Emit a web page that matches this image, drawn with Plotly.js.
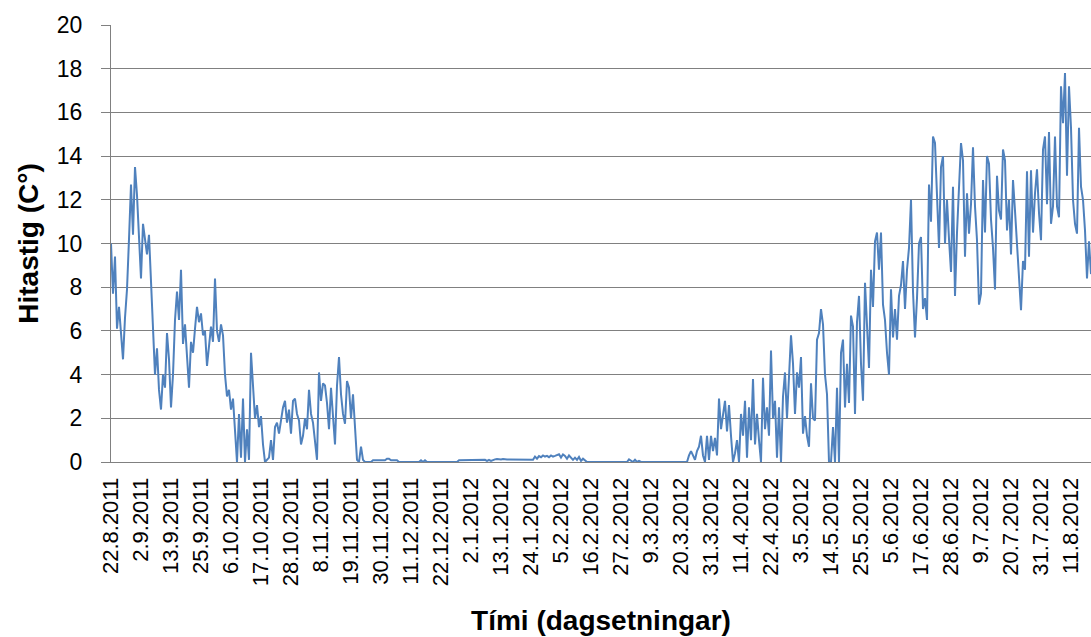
<!DOCTYPE html>
<html>
<head>
<meta charset="utf-8">
<script src="https://cdn.plot.ly/plotly-3.0.1.min.js"></script>
<style>
  html, body { margin: 0; padding: 0; background: #ffffff; }
  #chart { width: 1091px; height: 637px; }
</style>
</head>
<body>
<div id="chart"></div>
<script>
// Date labels shown on the category axis (one label every 15 samples)
const dateLabels = [
  "22.8.2011", "2.9.2011", "13.9.2011", "25.9.2011", "6.10.2011", "17.10.2011",
  "28.10.2011", "8.11.2011", "19.11.2011", "30.11.2011", "11.12.2011", "22.12.2011",
  "2.1.2012", "13.1.2012", "24.1.2012", "5.2.2012", "16.2.2012", "27.2.2012",
  "9.3.2012", "20.3.2012", "31.3.2012", "11.4.2012", "22.4.2012", "3.5.2012",
  "14.5.2012", "25.5.2012", "5.6.2012", "17.6.2012", "28.6.2012", "9.7.2012",
  "20.7.2012", "31.7.2012", "11.8.2012"
];
const samplesPerLabel = 15;

const temperature = [
  10.0, 7.7, 9.4, 6.1, 7.1, 5.9, 4.7, 6.6, 7.9, 10.2,
  12.7, 10.4, 13.5, 12.2, 10.0, 8.4, 10.9, 10.2, 9.5, 10.4,
  8.1, 6.3, 4.0, 5.2, 3.3, 2.4, 4.0, 3.4, 5.9, 4.7,
  2.5, 4.0, 6.5, 7.8, 6.5, 8.8, 5.4, 6.3, 5.0, 3.4,
  5.5, 5.0, 6.1, 7.1, 6.4, 6.8, 5.8, 6.0, 4.4, 5.5,
  6.2, 5.5, 8.4, 6.0, 5.5, 6.3, 5.8, 4.0, 3.0, 3.3,
  2.4, 2.9, 1.5, 0.0, 2.2, 0.2, 2.9, 0.0, 1.5, 0.1,
  5.0, 3.5, 2.0, 2.6, 1.6, 2.1, 0.8, 0.0, 0.1, 0.2,
  1.0, 0.1, 1.6, 1.8, 1.3, 2.0, 2.5, 2.8, 1.8, 2.4,
  1.3, 2.8, 2.9, 2.2, 1.9, 0.8, 1.2, 2.0, 1.5, 3.3,
  2.2, 1.8, 0.9, 0.1, 4.1, 2.8, 3.6, 3.5, 2.7, 1.5,
  3.4, 2.2, 0.8, 3.5, 4.8, 3.1, 2.2, 1.75, 3.7, 3.4,
  2.0, 3.1, 1.7, 0.1, 0.0, 0.7, 0.1, 0.0, 0.0, 0.0,
  0.0, 0.08, 0.08, 0.08, 0.08, 0.08, 0.08, 0.08, 0.15, 0.15,
  0.08, 0.08, 0.08, 0.08, 0.0, 0.0, 0.0, 0.0, 0.0, 0.0,
  0.0, 0.0, 0.0, 0.0, 0.0, 0.08, 0.0, 0.08, 0.0, 0.0,
  0.0, 0.0, 0.0, 0.0, 0.0, 0.0, 0.0, 0.0, 0.0, 0.0,
  0.0, 0.0, 0.0, 0.0, 0.08, 0.08, 0.08, 0.08, 0.08, 0.08,
  0.08, 0.08, 0.08, 0.08, 0.08, 0.08, 0.08, 0.1, 0.05, 0.1,
  0.05, 0.1, 0.12, 0.14, 0.12, 0.12, 0.14, 0.12, 0.12, 0.12,
  0.12, 0.1, 0.1, 0.1, 0.1, 0.1, 0.1, 0.1, 0.1, 0.1,
  0.1, 0.1, 0.25, 0.15, 0.27, 0.22, 0.3, 0.25, 0.28, 0.22,
  0.3, 0.25, 0.28, 0.3, 0.35, 0.2, 0.35, 0.28, 0.15, 0.3,
  0.2, 0.1, 0.2, 0.1, 0.23, 0.05, 0.15, 0.05, 0.0, 0.0,
  0.0, 0.0, 0.0, 0.0, 0.0, 0.0, 0.0, 0.0, 0.0, 0.0,
  0.0, 0.0, 0.0, 0.0, 0.0, 0.0, 0.0, 0.0, 0.0, 0.12,
  0.05, 0.0, 0.1, 0.0, 0.05, 0.0, 0.0, 0.0, 0.0, 0.0,
  0.0, 0.0, 0.0, 0.0, 0.0, 0.0, 0.0, 0.0, 0.0, 0.0,
  0.0, 0.0, 0.0, 0.0, 0.0, 0.0, 0.0, 0.0, 0.0, 0.3,
  0.5, 0.3, 0.1, 0.5, 0.7, 1.2, 0.3, 0.0, 1.2, 0.1,
  1.2, 0.5, 1.1, 0.3, 2.9, 1.5, 2.3, 2.8, 1.4, 2.6,
  1.2, 0.0, 0.4, 1.0, 0.0, 2.2, 1.2, 2.8, 0.2, 2.5,
  1.0, 3.8, 0.8, 2.2, 1.0, 0.0, 3.85, 1.5, 2.5, 1.2,
  5.1, 2.0, 2.8, 0.2, 2.5, 0.0, 3.0, 4.1, 2.0, 3.8,
  5.8, 4.5, 2.2, 4.1, 3.4, 4.8, 1.3, 2.1, 1.2, 0.7,
  3.6, 2.0, 1.9, 5.6, 5.9, 7.0, 6.3, 4.0, 3.1, 0.0,
  0.0, 1.6, 0.0, 3.4, 0.0, 5.0, 5.6, 2.5, 4.5, 2.7,
  6.7, 6.2, 2.2, 6.4, 7.6, 4.5, 2.8, 8.2, 6.0, 4.3,
  8.8, 7.1, 10.1, 10.5, 8.8, 10.5, 7.2, 6.5, 5.0, 4.0,
  7.9, 5.7, 7.0, 5.6, 7.6, 8.1, 9.2, 7.0, 8.8, 9.8,
  12.0, 7.8, 5.7, 7.5, 10.0, 10.3, 7.0, 7.5, 6.5, 12.7,
  11.0, 14.9, 14.6, 12.3, 9.8, 13.5, 14.0, 10.0, 12.0, 10.2,
  8.7, 12.6, 7.6, 10.5, 12.6, 14.6, 13.8, 9.4, 12.3, 10.45,
  11.8, 14.4, 11.7, 10.15, 7.2, 7.7, 12.9, 10.5, 14.0, 13.65,
  11.1, 9.8, 7.9, 13.1, 11.5, 11.1, 14.3, 13.8, 10.6, 12.0,
  9.5, 12.9, 11.5, 10.1, 8.5, 6.95, 9.2, 8.8, 13.3, 9.4,
  13.35, 10.5, 12.3, 13.4, 11.4, 10.15, 14.3, 14.9, 11.8, 15.1,
  10.9, 11.7, 14.9, 11.7, 11.2, 17.2, 15.5, 17.8, 13.1, 17.2,
  15.3, 12.0, 10.9, 10.45, 15.3, 12.6, 12.0, 10.6, 8.4, 10.1,
  8.6
];

const tickPositions = dateLabels.map((_, k) => k * samplesPerLabel);

const trace = {
  type: "scatter",
  mode: "lines",
  y: temperature,
  line: { color: "#4F81BD", width: 2 },
  hoverinfo: "y",
  showlegend: false
};

const gridGray = "#808080";
const fontFam = "Liberation Sans, Arial, sans-serif";

const layout = {
  width: 1091,
  height: 637,
  margin: { l: 111, r: 0, t: 25, b: 175 },
  paper_bgcolor: "#ffffff",
  plot_bgcolor: "#ffffff",
  font: { family: fontFam, color: "#000000" },
  xaxis: {
    range: [0, temperature.length - 1],
    tickmode: "array",
    tickvals: tickPositions,
    ticktext: dateLabels,
    tickangle: -90,
    ticks: "",
    ticklabelstandoff: 6,
    tickfont: { family: fontFam, size: 22, color: "#000000" },
    showgrid: false,
    zeroline: false,
    showline: true,
    linecolor: gridGray,
    linewidth: 1,
    title: {
      text: "Tími (dagsetningar)",
      font: { family: fontFam, size: 28, color: "#000000", weight: "bold" },
      standoff: 25
    }
  },
  yaxis: {
    range: [0, 20],
    tick0: 0,
    dtick: 2,
    ticks: "outside",
    ticklen: 9,
    tickcolor: gridGray,
    tickwidth: 1,
    ticklabelstandoff: 14,
    tickfont: { family: fontFam, size: 23, color: "#000000" },
    showgrid: true,
    gridcolor: gridGray,
    gridwidth: 1,
    zeroline: false,
    showline: true,
    linecolor: gridGray,
    linewidth: 1,
    title: {
      text: "Hitastig (C°)",
      font: { family: fontFam, size: 28, color: "#000000", weight: "bold" },
      standoff: 10
    }
  }
};

Plotly.newPlot("chart", [trace], layout, { displayModeBar: false, staticPlot: true });
</script>
</body>
</html>
